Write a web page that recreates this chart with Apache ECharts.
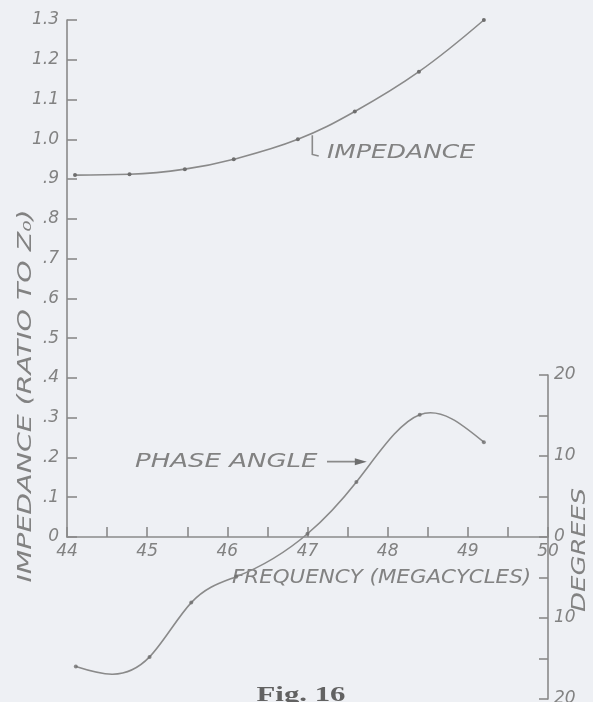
<!DOCTYPE html>
<html>
<head>
<meta charset="utf-8">
<script src="https://cdn.jsdelivr.net/npm/echarts@6/dist/echarts.min.js"></script>
<style>
  html, body { margin: 0; padding: 0; background: #eef0f4; }
  #chart { width: 593px; height: 702px; }
</style>
</head>
<body>
<div id="chart"></div>
<script>
// Frequency axis (megacycles)
const freqMin = 44;
const freqMax = 50;

// Impedance, as ratio to Z0
const impedanceFreq  = [44.1, 44.78, 45.47, 46.08, 46.88, 47.59, 48.39, 49.2];
const impedanceValue = [0.91, 0.912, 0.925, 0.95, 1.0, 1.07, 1.17, 1.30];

// Phase angle, degrees
const phaseFreq  = [44.11, 45.03, 45.55, 46.11, 47.0, 47.61, 48.4, 49.2];
const phaseValue = [-16.0, -14.8, -8.1, -4.9, 0.4, 6.8, 15.1, 11.7];

// Tick labels
const impedanceTickLabels = ['0', '.1', '.2', '.3', '.4', '.5', '.6', '.7', '.8', '.9', '1.0', '1.1', '1.2', '1.3'];
const degreeTickLabels = { '-20': '20', '-10': '10', '0': '0', '10': '10', '20': '20' };

const INK = '#8a8a8a';
const TEXT = '#828282';
const DOT = '#6e6e6e';
const HAND = 'DejaVu Sans';

const pairs = (xs, ys) => xs.map((x, i) => [x, ys[i]]);

// Natural cubic spline through (xs, ys): returns slopes at each knot,
// used to draw the curve as cubic Bezier segments.
function splineSlopes(xs, ys) {
  const n = xs.length;
  const h = [], s = [];
  for (let i = 0; i < n - 1; i++) {
    h.push(xs[i + 1] - xs[i]);
    s.push((ys[i + 1] - ys[i]) / h[i]);
  }
  const M = new Array(n).fill(0);
  const a = [], b = [], c = [], d = [];
  for (let i = 1; i < n - 1; i++) {
    a.push(h[i - 1]); b.push(2 * (h[i - 1] + h[i])); c.push(h[i]);
    d.push(6 * (s[i] - s[i - 1]));
  }
  const m = b.length;
  for (let i = 1; i < m; i++) {
    const w = a[i] / b[i - 1];
    b[i] -= w * c[i - 1];
    d[i] -= w * d[i - 1];
  }
  const inner = new Array(m);
  inner[m - 1] = d[m - 1] / b[m - 1];
  for (let i = m - 2; i >= 0; i--) inner[i] = (d[i] - c[i] * inner[i + 1]) / b[i];
  for (let i = 0; i < m; i++) M[i + 1] = inner[i];
  const slopes = [];
  for (let i = 0; i < n - 1; i++) slopes.push(s[i] - h[i] * (2 * M[i] + M[i + 1]) / 6);
  slopes.push(s[n - 2] + h[n - 2] * (M[n - 2] + 2 * M[n - 1]) / 6);
  return slopes;
}

const phaseSlopes = splineSlopes(phaseFreq, phaseValue);

function renderPhaseCurve(params, api) {
  if (params.dataIndex !== 0) return null;
  const p0 = api.coord([phaseFreq[0], phaseValue[0]]);
  let path = 'M' + p0[0] + ' ' + p0[1];
  for (let i = 0; i < phaseFreq.length - 1; i++) {
    const hx = phaseFreq[i + 1] - phaseFreq[i];
    const c1 = api.coord([phaseFreq[i] + hx / 3, phaseValue[i] + phaseSlopes[i] * hx / 3]);
    const c2 = api.coord([phaseFreq[i + 1] - hx / 3, phaseValue[i + 1] - phaseSlopes[i + 1] * hx / 3]);
    const p = api.coord([phaseFreq[i + 1], phaseValue[i + 1]]);
    path += ' C' + c1[0] + ' ' + c1[1] + ' ' + c2[0] + ' ' + c2[1] + ' ' + p[0] + ' ' + p[1];
  }
  return {
    type: 'path',
    shape: { pathData: path },
    style: { stroke: INK, lineWidth: 1.6, fill: 'none' }
  };
}

const chart = echarts.init(document.getElementById('chart'), null, { renderer: 'canvas' });

const axisLine = { show: true, lineStyle: { color: INK, width: 1.6 } };
const tickLabelStyle = { color: TEXT, fontFamily: HAND, fontStyle: 'italic', fontSize: 17 };

chart.setOption({
  backgroundColor: '#eef0f4',
  animation: false,
  grid: [
    { left: 67, right: 45, top: 20, height: 517, outerBoundsMode: 'none', containLabel: false },
    { left: 67, right: 45, top: 375, height: 324, outerBoundsMode: 'none', containLabel: false }
  ],
  xAxis: [
    {
      type: 'value', gridIndex: 0, min: freqMin, max: freqMax, interval: 0.5,
      axisLine: axisLine,
      axisTick: { show: true, inside: true, length: 10, lineStyle: { color: INK, width: 1.6 } },
      splitLine: { show: false },
      axisLabel: Object.assign({}, tickLabelStyle, {
        margin: 6,
        formatter: v => Number.isInteger(v) ? String(v) : ''
      })
    },
    {
      type: 'value', gridIndex: 1, min: freqMin, max: freqMax, show: false
    }
  ],
  yAxis: [
    {
      type: 'value', gridIndex: 0, min: 0, max: 1.3, interval: 0.1,
      axisLine: axisLine,
      axisTick: { show: true, inside: true, length: 10, lineStyle: { color: INK, width: 1.6 } },
      splitLine: { show: false },
      axisLabel: Object.assign({}, tickLabelStyle, {
        margin: 8,
        formatter: v => impedanceTickLabels[Math.round(v * 10)]
      })
    },
    {
      type: 'value', gridIndex: 1, position: 'right', min: -20, max: 20, interval: 5,
      axisLine: axisLine,
      axisTick: { show: true, inside: true, length: 9, lineStyle: { color: INK, width: 1.6 } },
      splitLine: { show: false },
      axisLabel: Object.assign({}, tickLabelStyle, {
        margin: 6,
        formatter: v => (v % 10 === 0 ? degreeTickLabels[String(v)] : '')
      })
    }
  ],
  series: [
    {
      name: 'Impedance', type: 'line', xAxisIndex: 0, yAxisIndex: 0,
      data: pairs(impedanceFreq, impedanceValue),
      smooth: 0.4,
      symbol: 'circle', symbolSize: 4,
      lineStyle: { color: INK, width: 1.6 },
      itemStyle: { color: DOT }
    },
    {
      name: 'Phase angle curve', type: 'custom', xAxisIndex: 1, yAxisIndex: 1,
      data: pairs(phaseFreq, phaseValue),
      renderItem: renderPhaseCurve,
      clip: false,
      silent: true
    },
    {
      name: 'Phase angle', type: 'scatter', xAxisIndex: 1, yAxisIndex: 1,
      data: pairs(phaseFreq, phaseValue),
      symbol: 'circle', symbolSize: 4,
      itemStyle: { color: DOT }
    }
  ]
});

// Annotations: leader for the impedance curve, arrow to the phase curve, titles
const toImp = p => chart.convertToPixel({ xAxisIndex: 0, yAxisIndex: 0 }, p);
const toPhase = p => chart.convertToPixel({ xAxisIndex: 1, yAxisIndex: 1 }, p);

const leaderTop = toImp([47.06, 1.01]);
const leaderBottom = toImp([47.06, 0.962]);
const leaderHook = toImp([47.14, 0.958]);

const arrowTip = toPhase([47.74, 9.3]);
const arrowStart = [327, arrowTip[1]];

const handText = (x, y, text, size, extra) => Object.assign({
  type: 'text', x: x, y: y,
  style: {
    text: text, fill: TEXT, font: 'italic ' + size + 'px "' + HAND + '"',
    textAlign: 'left', textVerticalAlign: 'middle'
  }
}, extra || {});

chart.setOption({
  graphic: [
    {
      type: 'polyline',
      shape: { points: [leaderTop, leaderBottom, leaderHook] },
      style: { stroke: INK, lineWidth: 1.6, fill: null }
    },
    handText(327, 153, 'IMPEDANCE', 20, { scaleX: 1.25 }),
    handText(135, arrowTip[1], 'PHASE ANGLE', 20, { scaleX: 1.3 }),
    {
      type: 'line',
      shape: { x1: arrowStart[0], y1: arrowStart[1], x2: arrowTip[0] - 6, y2: arrowTip[1] },
      style: { stroke: INK, lineWidth: 1.6 }
    },
    {
      type: 'polygon',
      shape: { points: [[arrowTip[0] - 12, arrowTip[1] - 3.5], [arrowTip[0], arrowTip[1]], [arrowTip[0] - 12, arrowTip[1] + 3.5]] },
      style: { fill: DOT }
    },
    handText(232, 578, 'FREQUENCY (MEGACYCLES)', 20, { scaleX: 1.07 }),
    {
      type: 'text', x: 26, y: 396, rotation: Math.PI / 2, scaleX: 1.42,
      style: {
        text: 'IMPEDANCE (RATIO TO Z₀)', fill: TEXT, font: 'italic 20px "' + HAND + '"',
        textAlign: 'center', textVerticalAlign: 'middle'
      }
    },
    {
      type: 'text', x: 580, y: 550, rotation: Math.PI / 2, scaleX: 1.3,
      style: {
        text: 'DEGREES', fill: TEXT, font: 'italic 20px "' + HAND + '"',
        textAlign: 'center', textVerticalAlign: 'middle'
      }
    },
    {
      type: 'text', x: 301, y: 684, scaleX: 1.4,
      style: {
        text: 'Fig. 16', fill: '#626262', font: 'bold 22px "Liberation Serif"',
        textAlign: 'center', textVerticalAlign: 'top'
      }
    }
  ]
});
</script>
</body>
</html>
